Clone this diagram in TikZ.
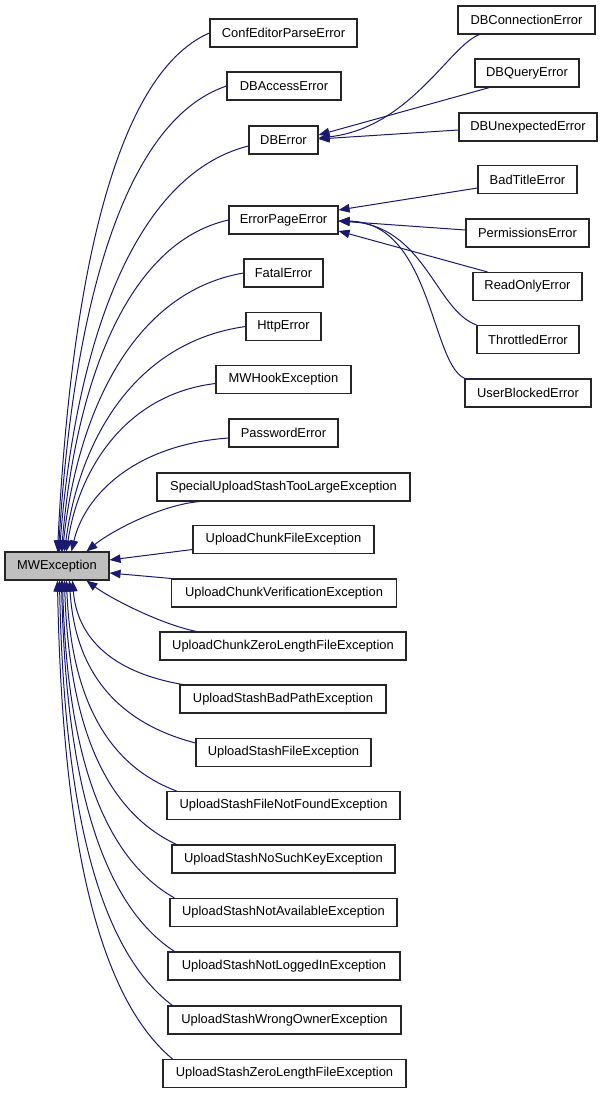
\documentclass[tikz,border=0pt]{standalone}
\usepackage{fontspec}
\setmainfont{Liberation Sans}
\usetikzlibrary{arrows.meta,calc}
\definecolor{mblue}{HTML}{191970}
\definecolor{hgray}{HTML}{BFBFBF}
\begin{document}
\begin{tikzpicture}[x=1pt,y=-1pt,
  box/.style={draw=black!85, line width=1.1pt, fill=white, minimum height=28pt, inner sep=0pt, font=\fontsize{12.9}{15}\selectfont},
  edge/.style={{Triangle[length=11pt,width=8.5pt]}-, color=mblue, line width=1pt}]
\useasboundingbox (0,0) rectangle (603,1093);
% nodes
\node[box, fill=hgray, minimum width=104pt] (mwe) at (57,566) {MWException};
\node[box, minimum width=147pt] (conf) at (283.5,33) {ConfEditorParseError};
\node[box, minimum width=114pt] (dbacc) at (284,86) {DBAccessError};
\node[box, minimum width=69pt] (dberr) at (283.5,140) {DBError};
\node[box, minimum width=109pt] (epe) at (283.5,220) {ErrorPageError};
\node[box, minimum width=79pt] (fatal) at (283.5,273) {FatalError};
\node[box, minimum width=75pt] (http) at (283.5,326.5) {HttpError};
\node[box, minimum width=135pt] (hook) at (283.5,379.5) {MWHookException};
\node[box, minimum width=109pt] (pwd) at (283.5,433) {PasswordError};
\node[box, minimum width=253pt] (special) at (283.5,487) {SpecialUploadStashTooLargeException};
\node[box, minimum width=181pt] (chunkfile) at (283.5,539.5) {UploadChunkFileException};
\node[box, minimum width=225pt] (verif) at (284,593) {UploadChunkVerificationException};
\node[box, minimum width=246pt] (zerolen) at (283,646) {UploadChunkZeroLengthFileException};
\node[box, minimum width=206pt] (badpath) at (283,699) {UploadStashBadPathException};
\node[box, minimum width=175pt] (stashfile) at (283.5,752.5) {UploadStashFileException};
\node[box, minimum width=233pt] (notfound) at (283.5,805.5) {UploadStashFileNotFoundException};
\node[box, minimum width=223pt] (nokey) at (283.5,859) {UploadStashNoSuchKeyException};
\node[box, minimum width=227pt] (notavail) at (283.5,912.5) {UploadStashNotAvailableException};
\node[box, minimum width=232pt] (notlogged) at (284,966) {UploadStashNotLoggedInException};
\node[box, minimum width=233pt] (wrongowner) at (284.5,1020) {UploadStashWrongOwnerException};
\node[box, minimum width=243pt] (stashzero) at (284.5,1073.5) {UploadStashZeroLengthFileException};
\node[box, minimum width=137pt] (dbconn) at (526.5,20) {DBConnectionError};
\node[box, minimum width=104pt] (dbquery) at (527,73) {DBQueryError};
\node[box, minimum width=138pt] (dbunexp) at (528,127) {DBUnexpectedError};
\node[box, minimum width=99pt] (badtitle) at (527.5,179.5) {BadTitleError};
\node[box, minimum width=123pt] (perm) at (527.5,233) {PermissionsError};
\node[box, minimum width=109pt] (readonly) at (527.5,286.5) {ReadOnlyError};
\node[box, minimum width=102pt] (throttled) at (528,339.5) {ThrottledError};
\node[box, minimum width=126pt] (userblocked) at (528,393) {UserBlockedError};
% top fan
\draw[edge] ($(mwe.north west)+(53,0)$) .. controls (70.2,293) and (112,75) .. (conf.west);
\draw[edge] ($(mwe.north west)+(54,0)$) .. controls (72.4,319) and (120,122) .. (dbacc.west);
\draw[edge] ($(mwe.north west)+(55,0)$) .. controls (75.1,349) and (132,175) .. ($(dberr.west)+(0,6)$);
\draw[edge] ($(mwe.north west)+(57,0)$) .. controls (75.4,385.5) and (126,243) .. (epe.west);
\draw[edge] ($(mwe.north west)+(58,0)$) .. controls (77.5,412) and (133,292) .. (fatal.west);
\draw[edge] ($(mwe.north west)+(60,0)$) .. controls (79.5,439) and (135,342) .. (http.west);
\draw[edge] ($(mwe.north west)+(62,0)$) .. controls (78.9,468) and (126.6,394) .. ($(hook.west)+(0,4)$);
\draw[edge] ($(mwe.north west)+(67,0)$) .. controls (84.6,495) and (134.8,444.8) .. ($(pwd.west)+(0,5)$);
\draw[edge] ($(mwe.north west)+(82,0)$) .. controls (110,532) and (160,505) .. ($(special.south west)+(43,0)$);
% side
\draw[edge] ($(mwe.east)+(0,-6)$) -- ($(chunkfile.west)+(0,10)$);
\draw[edge] ($(mwe.east)+(0,7)$) -- (verif.north west);
% bottom fan
\draw[edge] ($(mwe.south west)+(82,0)$) .. controls (110,598) and (160,624) .. ($(zerolen.north west)+(37,0)$);
\draw[edge] ($(mwe.south west)+(68,0)$) .. controls (76.3,628.25) and (100.5,670.25) .. ($(badpath.north west)+(3,0)$);
\draw[edge] ($(mwe.south west)+(65,0)$) .. controls (73.8,653.9) and (101.5,718.7) .. ($(stashfile.north west)+(0,5)$);
\draw[edge] ($(mwe.south west)+(62,0)$) .. controls (70.3,676) and (94.5,760.4) .. ($(notfound.north west)+(10,0)$);
\draw[edge] ($(mwe.south west)+(60,0)$) .. controls (68.4,699.8) and (93,805.4) .. ($(nokey.north west)+(5,0)$);
\draw[edge] ($(mwe.south west)+(58,0)$) .. controls (66.4,723.7) and (91,850.5) .. ($(notavail.north west)+(5,0)$);
\draw[edge] ($(mwe.south west)+(57,0)$) .. controls (65.4,748) and (90.25,896.4) .. ($(notlogged.north west)+(7,0)$);
\draw[edge] ($(mwe.south west)+(55,0)$) .. controls (63.4,772) and (88.25,942.25) .. ($(wrongowner.north west)+(5,0)$);
\draw[edge] ($(mwe.south west)+(53,0)$) .. controls (61.5,796) and (86.75,987.3) .. ($(stashzero.north west)+(10,0)$);
% DBError children
\draw[edge] ($(dberr.east)+(0,-2)$) .. controls (410,128) and (450,45) .. ($(dbconn.south west)+(22,0)$);
\draw[edge] ($(dberr.east)+(0,-5)$) -- ($(dbquery.south west)+(15,0)$);
\draw[edge] ($(dberr.east)+(0,-1)$) -- ($(dbunexp.west)+(0,3)$);
% ErrorPageError children
\draw[edge] ($(epe.east)+(0,-10)$) -- ($(badtitle.west)+(0,8.5)$);
\draw[edge] ($(epe.east)+(0,1)$) -- ($(perm.west)+(0,-3)$);
\draw[edge] ($(epe.east)+(0,11)$) -- ($(readonly.north west)+(15,0)$);
\draw[edge] ($(epe.east)+(0,1)$) .. controls (425,225) and (435,310) .. (throttled.north west);
\draw[edge] ($(epe.east)+(0,1)$) .. controls (440,222) and (430,395) .. ($(userblocked.north west)+(12,0)$);
\end{tikzpicture}
\end{document}
